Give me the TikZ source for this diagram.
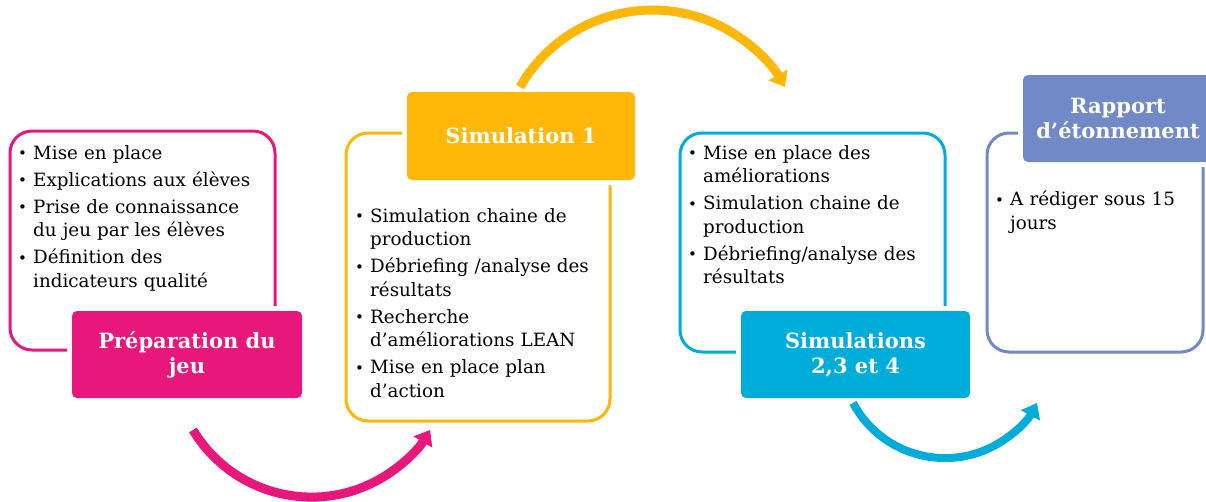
\documentclass[tikz,border=0pt]{standalone}
\usepackage{fontspec}
\setmainfont{DejaVu Serif}
\usetikzlibrary{arrows.meta}
\definecolor{cpink}{RGB}{232,23,124}
\definecolor{corange}{RGB}{255,183,10}
\definecolor{ccyan}{RGB}{0,173,218}
\definecolor{cslate}{RGB}{113,137,198}
\newcommand{\itm}[1]{\noindent\hangindent=15pt\hangafter=1\makebox[15pt][l]{\raisebox{0.5pt}{\fontsize{15}{15}\selectfont\textbullet}}#1\par}
\tikzset{
  outlinebox/.style={draw=#1, line width=3pt, rounded corners=22pt, inner sep=0pt},
  titlebox/.style={fill=#1, rounded corners=5pt, text=white, inner sep=0pt,
    font=\bfseries\fontsize{21}{25}\selectfont, align=center,
    preaction={draw=white, line width=10pt}},
  listtext/.style={anchor=north west, inner sep=0pt, text width=260pt, align=left,
    font=\fontsize{18.3}{23.5}\selectfont, execute at begin node={\setlength{\parskip}{3.5pt}}},
  bigarrow/.style={draw=#1, line width=9pt, -{Triangle[length=14pt,width=21pt]}}
}
\begin{document}
\begin{tikzpicture}[x=1pt,y=1pt]
\path[use as bounding box] (0,0) rectangle (1206,-501);
% box 1
\node[outlinebox=cpink, minimum width=265pt, minimum height=219pt] (o1) at (142.5,-240.5) {};
\node[titlebox=cpink, minimum width=230pt, minimum height=87pt] (t1) at (187,-354.5) {Préparation du\\jeu};
\node[listtext] (l1) at (18,-145) {\itm{Mise en place}\itm{Explications aux élèves}\itm{Prise de connaissance\newline du jeu par les élèves}\itm{Définition des\newline indicateurs qualité}};
% box 2
\node[outlinebox=corange, minimum width=264pt, minimum height=288pt] (o2) at (478,-277) {};
\node[titlebox=corange, minimum width=228pt, minimum height=88pt] (t2) at (521,-136) {Simulation 1};
\node[listtext] (l2) at (355,-208) {\itm{Simulation chaine de\newline production}\itm{Débriefing /analyse des\newline résultats}\itm{Recherche\newline d’améliorations LEAN}\itm{Mise en place plan\newline d\symbol{"0027}action}};
% box 3
\node[outlinebox=ccyan, minimum width=265pt, minimum height=219pt] (o3) at (812.5,-242.5) {};
\node[titlebox=ccyan, minimum width=229pt, minimum height=87pt] (t3) at (855.5,-354.5) {Simulations\\2,3 et 4};
\node[listtext] (l3) at (688,-145) {\itm{Mise en place des\newline améliorations}\itm{Simulation chaine de\newline production}\itm{Débriefing/analyse des\newline résultats}};
% box 4
\node[outlinebox=cslate, minimum width=216pt, minimum height=219pt] (o4) at (1095,-242.5) {};
\node[titlebox=cslate, minimum width=190pt, minimum height=87pt] (t4) at (1118,-118.5) {Rapport\\d’étonnement};
\node[listtext] (l4) at (995,-191) {\itm{A rédiger sous 15\newline jours}};
% arrows
\coordinate (a1) at (193,-430);
\coordinate (a2) at (520,-87);
\coordinate (a3) at (853,-403);
\draw[bigarrow=cpink] (a1) arc[start angle=211, end angle=329, radius=138.3];
\draw[bigarrow=corange] (a2) arc[start angle=150.3, end angle=29.7, radius=152.5];
\draw[bigarrow=ccyan, line width=8pt] (a3) arc[start angle=208.2, end angle=331.8, radius=104.4];
\end{tikzpicture}
\end{document}
